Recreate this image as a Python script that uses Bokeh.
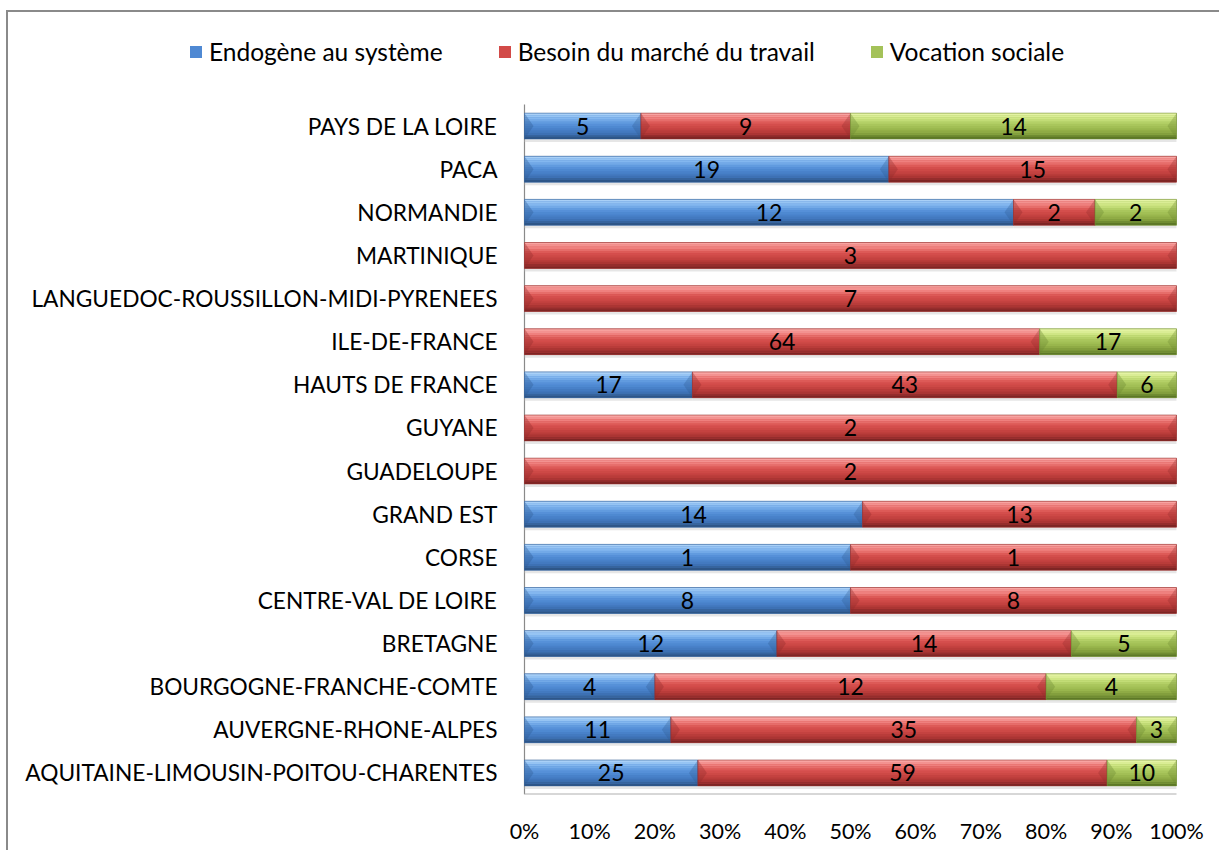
from bokeh.plotting import figure
from bokeh.models import ColumnDataSource, Range1d, FixedTicker, NumeralTickFormatter, Legend, LegendItem
from bokeh.core.properties import value
from bokeh.embed import file_html
from bokeh.resources import INLINE

# ---------------- data ----------------
regions = ["AQUITAINE-LIMOUSIN-POITOU-CHARENTES", "AUVERGNE-RHONE-ALPES", "BOURGOGNE-FRANCHE-COMTE",
           "BRETAGNE", "CENTRE-VAL DE LOIRE", "CORSE", "GRAND EST", "GUADELOUPE", "GUYANE",
           "HAUTS DE FRANCE", "ILE-DE-FRANCE", "LANGUEDOC-ROUSSILLON-MIDI-PYRENEES", "MARTINIQUE",
           "NORMANDIE", "PACA", "PAYS DE LA LOIRE"]
endogene = [25, 11, 4, 12, 8, 1, 14, 0, 0, 17, 0, 0, 0, 12, 19, 5]
besoin = [59, 35, 12, 14, 8, 1, 13, 2, 2, 43, 64, 7, 3, 2, 15, 9]
vocation = [10, 3, 4, 5, 0, 0, 0, 0, 0, 6, 17, 0, 0, 2, 0, 14]
series_names = ["Endogène au système", "Besoin du marché du travail", "Vocation sociale"]
x_ticks = [0, 0.1, 0.2, 0.3, 0.4, 0.5, 0.6, 0.7, 0.8, 0.9, 1.0]

# vertical shading stops per series (top -> bottom) and the legend/base colour
shades = [["#A9D0F7", "#7FB5EE", "#5A95DC", "#4A84CD", "#3F74B8", "#2E5688"],
          ["#F8A4A2", "#EE7C7A", "#D9524F", "#C84543", "#B03735", "#7E2524"],
          ["#E4F3A4", "#CDE582", "#AECB61", "#9DBA50", "#87A33F", "#5D7827"]]
base_cols = ["#4F89D3", "#D24A48", "#A4C259"]
edge_cols = ["#2D5A90", "#8E2B2A", "#6B8630"]

FONT = "Lato"
BORDER = "2px solid #8a8a8a"

# ---------------- layout geometry ----------------
W, H = 1213, 840
PLOT_LEFT, PLOT_W = 516, 652          # pixel offset / width of the 0..100% region
BOTTOM = 58                           # x-axis panel
BAND = 43.125                         # pixels per category band
BAR_H = 0.6
N_STRIPS = 12
WEDGE_PX = 9
n = len(regions)
frame_h = H - BOTTOM
x_start = -PLOT_LEFT / PLOT_W
x_end = (W - PLOT_LEFT) / PLOT_W
y_start = -0.5
y_end = y_start + frame_h / BAND
wedge = WEDGE_PX / PLOT_W


def hex2rgb(h):
    return tuple(int(h[k:k + 2], 16) for k in (1, 3, 5))


def grad(stops, t):
    pos = t * (len(stops) - 1)
    k = min(int(pos), len(stops) - 2)
    f = pos - k
    a, b = hex2rgb(stops[k]), hex2rgb(stops[k + 1])
    return "#%02x%02x%02x" % tuple(round(a[j] + (b[j] - a[j]) * f) for j in range(3))


p = figure(width=W, height=H, x_range=Range1d(x_start, x_end), y_range=Range1d(y_start, y_end),
           output_backend="svg", toolbar_location=None,
           min_border_left=0, min_border_right=0, min_border_top=0, min_border_bottom=BOTTOM)
p.margin = (10, 0, 0, 6)
p.styles = {"border-left": BORDER, "border-top": BORDER}
p.outline_line_color = None
p.grid.visible = False
p.yaxis.visible = False

series = [endogene, besoin, vocation]
totals = [sum(v[i] for v in series) for i in range(n)]
idx = list(range(n))

# axis lines limited to the bar area
p.segment(x0=[0], x1=[0], y0=[-0.5], y1=[n - 0.5], line_color="#8a8a8a", line_width=1.2)
p.segment(x0=[0], x1=[1], y0=[-0.5], y1=[-0.5], line_color="#b0b0b0", line_width=2)

legend_items = []
cum = [0.0] * n
for s_idx, vals in enumerate(series):
    ys, lefts, rights, centers, labels = [], [], [], [], []
    for i in idx:
        frac = vals[i] / totals[i]
        if vals[i] > 0:
            ys.append(i)
            lefts.append(cum[i])
            rights.append(cum[i] + frac)
            centers.append(cum[i] + frac / 2)
            labels.append(str(vals[i]))
        cum[i] += frac
    src = ColumnDataSource(dict(y=ys, left=lefts, right=rights, center=centers, label=labels,
                                y_sh=[y - BAR_H / 2 - 0.04 for y in ys]))
    # soft shadow under the bar
    p.hbar(y="y_sh", left="left", right="right", height=0.06, source=src,
           fill_color="#c8c8c8", fill_alpha=0.45, line_color=None)
    base = p.hbar(y="y", left="left", right="right", height=BAR_H, source=src,
                  fill_color=base_cols[s_idx], line_color=None)
    # vertical shading strips
    sy, sl, sr, sc = [], [], [], []
    sh = BAR_H / N_STRIPS
    for y, l, r in zip(ys, lefts, rights):
        for k in range(N_STRIPS):
            sy.append(y + BAR_H / 2 - (k + 0.5) * sh)
            sl.append(l)
            sr.append(r)
            sc.append(grad(shades[s_idx], k / (N_STRIPS - 1)))
    p.hbar(y=sy, left=sl, right=sr, height=sh * 1.05, fill_color=sc, line_color=None)
    # bevelled ends (triangular facets)
    lx, ly, rx, ry = [], [], [], []
    for y, l, r in zip(ys, lefts, rights):
        lx.append([l, l + wedge, l])
        ly.append([y + BAR_H / 2, y, y - BAR_H / 2])
        rx.append([r, r - wedge, r])
        ry.append([y + BAR_H / 2, y, y - BAR_H / 2])
    p.patches(xs=lx, ys=ly, fill_color=edge_cols[s_idx], fill_alpha=0.35, line_color=None)
    p.patches(xs=rx, ys=ry, fill_color=edge_cols[s_idx], fill_alpha=0.3, line_color=None)
    p.hbar(y="y", left="left", right="right", height=BAR_H, source=src,
           fill_alpha=0, line_color=edge_cols[s_idx], line_width=1, line_alpha=0.55)
    p.text(x="center", y="y", text="label", source=src, text_align="center", text_baseline="middle",
           text_font=value(FONT), text_font_size="23px", text_color="black")
    legend_items.append(LegendItem(label=series_names[s_idx], renderers=[base]))

# category labels
cat_src = ColumnDataSource(dict(y=idx, x=[0] * n, name=regions))
p.text(x="x", y="y", text="name", source=cat_src, x_offset=-27, text_align="right",
       text_baseline="middle", text_font=value(FONT), text_font_size="22.7px", text_color="black")

legend = Legend(items=legend_items, orientation="horizontal", location=(180, 728),
                padding=0, margin=0, spacing=54, label_standoff=6, glyph_width=15, glyph_height=15,
                border_line_color=None, background_fill_alpha=0,
                label_text_font=FONT, label_text_font_size="24.5px", label_text_color="black")
p.add_layout(legend)

p.xaxis.ticker = FixedTicker(ticks=x_ticks)
p.xaxis.formatter = NumeralTickFormatter(format="0%")
p.xaxis.axis_line_color = None
p.xaxis.major_tick_line_color = None
p.xaxis.minor_tick_line_color = None
p.xaxis.major_label_standoff = 17
p.xaxis.major_label_text_font = FONT
p.xaxis.major_label_text_font_size = "21.5px"
p.xaxis.major_label_text_color = "black"

open("out.html", "w").write(file_html(p, INLINE))
